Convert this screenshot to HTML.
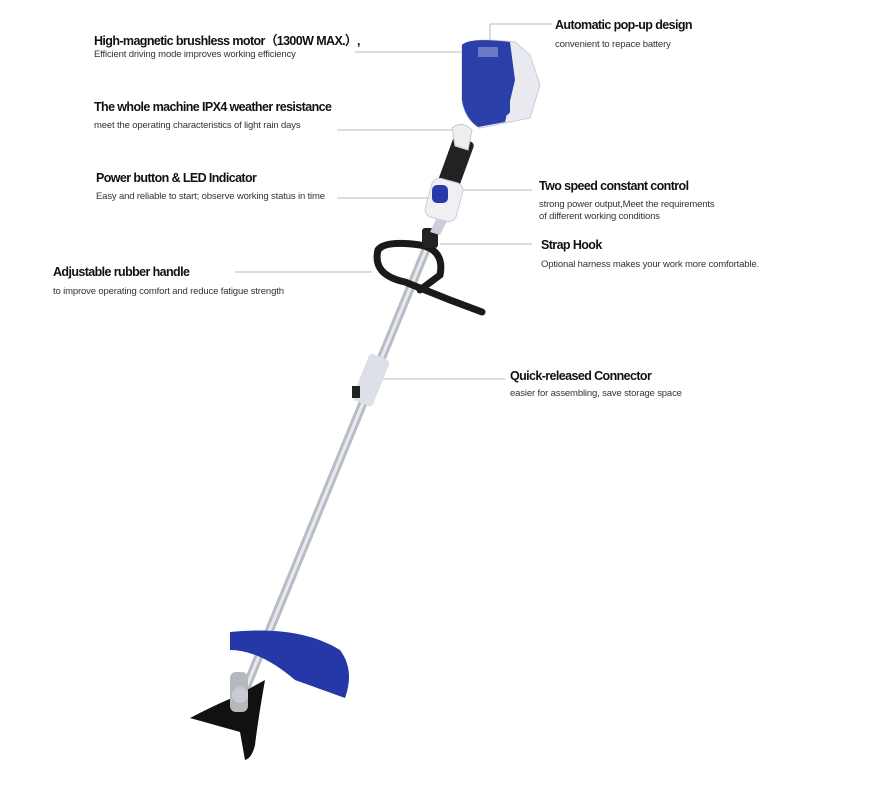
<!DOCTYPE html>
<html><head><meta charset="utf-8"><style>
body{margin:0;background:#fff;width:876px;height:806px;overflow:hidden;font-family:"Liberation Sans",sans-serif}
.t{position:absolute;font-weight:bold;font-size:12.5px;color:#111;white-space:nowrap;letter-spacing:-0.6px}
.s{position:absolute;font-size:9.5px;color:#333;white-space:nowrap;line-height:12px;letter-spacing:-0.15px}
</style></head><body>
<svg width="876" height="806" style="position:absolute;left:0;top:0">
<g stroke="#bbb" stroke-width="1" fill="none">
<line x1="355" y1="52" x2="462" y2="52"/>
<line x1="337" y1="130" x2="462" y2="130"/>
<line x1="337" y1="198" x2="432" y2="198"/>
<line x1="235" y1="272" x2="372" y2="272"/>
<polyline points="490,52 490,24 552,24"/>
<line x1="456" y1="190" x2="532" y2="190"/>
<line x1="440" y1="244" x2="532" y2="244"/>
<line x1="380" y1="379" x2="505" y2="379"/>
</g>
<line x1="430" y1="240" x2="245" y2="690" stroke="#b8bcc4" stroke-width="9"/>
<line x1="430" y1="240" x2="245" y2="690" stroke="#e8eaee" stroke-width="3"/>
<rect x="360" y="355" width="22" height="50" rx="4" fill="#dde0e6" transform="rotate(22 371 380)"/>
<rect x="352" y="386" width="8" height="12" fill="#222"/>
<path d="M378 250 Q372 275 405 282 L450 300 L482 312" stroke="#1a1a1a" stroke-width="7" fill="none" stroke-linecap="round"/>
<path d="M378 250 Q385 240 420 245 Q445 250 440 275 L420 290" stroke="#1a1a1a" stroke-width="7" fill="none" stroke-linecap="round"/>
<rect x="422" y="228" width="16" height="20" rx="3" fill="#222"/>
<path d="M445 200 L455 205 L440 235 L430 232Z" fill="#ccd"/>
<rect x="445" y="138" width="22" height="50" rx="4" fill="#222" transform="rotate(20 456 163)"/>
<path d="M452 128 Q462 120 472 130 L468 150 L455 146Z" fill="#eee" stroke="#ccc"/>
<rect x="428" y="180" width="32" height="40" rx="8" fill="#eef0f4" stroke="#ccd" transform="rotate(15 444 200)"/>
<rect x="432" y="185" width="16" height="18" rx="5" fill="#2a3aa8"/>
<path d="M462 45 Q470 37 515 42 L530 55 L540 85 L530 118 L480 128 Q465 120 462 100Z" fill="#e8eaf0" stroke="#c8ccd4"/>
<path d="M462 45 Q470 37 510 42 L515 80 L505 122 L478 127 Q465 118 462 100Z" fill="#2b3fa9"/>
<rect x="478" y="47" width="20" height="10" fill="#6a7ac8"/>
<rect x="498" y="90" width="12" height="25" rx="4" fill="#2b3fa9"/>
<path d="M230 632 Q300 625 340 650 Q355 670 345 698 L295 680 Q260 650 230 650Z" fill="#2438a8"/>
<path d="M190 718 Q215 705 232 698 L265 680 Q258 720 255 745 Q252 758 245 760 L240 732 Q215 725 190 718Z" fill="#111"/>
<rect x="230" y="672" width="18" height="40" rx="6" fill="#b5b8bd"/>
<circle cx="240" cy="695" r="8" fill="#c8cbd0"/>
</svg>
<div class="t" style="left:94px;top:30px">High-magnetic brushless motor（1300W MAX.）,</div>
<div class="s" style="left:94px;top:49px">Efficient driving mode improves working efficiency</div>
<div class="t" style="left:94px;top:100px">The whole machine IPX4 weather resistance</div>
<div class="s" style="left:94px;top:120px">meet the operating characteristics of light rain days</div>
<div class="t" style="left:96px;top:171px">Power button &amp; LED Indicator</div>
<div class="s" style="left:96px;top:191px">Easy and reliable to start; observe working status in time</div>
<div class="t" style="left:53px;top:265px">Adjustable rubber handle</div>
<div class="s" style="left:53px;top:286px">to improve operating comfort and reduce fatigue strength</div>
<div class="t" style="left:555px;top:18px">Automatic pop-up design</div>
<div class="s" style="left:555px;top:39px">convenient to repace battery</div>
<div class="t" style="left:539px;top:179px">Two speed constant control</div>
<div class="s" style="left:539px;top:199px">strong power output,Meet the requirements<br>of different working conditions</div>
<div class="t" style="left:541px;top:238px">Strap Hook</div>
<div class="s" style="left:541px;top:259px">Optional harness makes your work more comfortable.</div>
<div class="t" style="left:510px;top:369px">Quick-released Connector</div>
<div class="s" style="left:510px;top:388px">easier for assembling, save storage space</div>
</body></html>
